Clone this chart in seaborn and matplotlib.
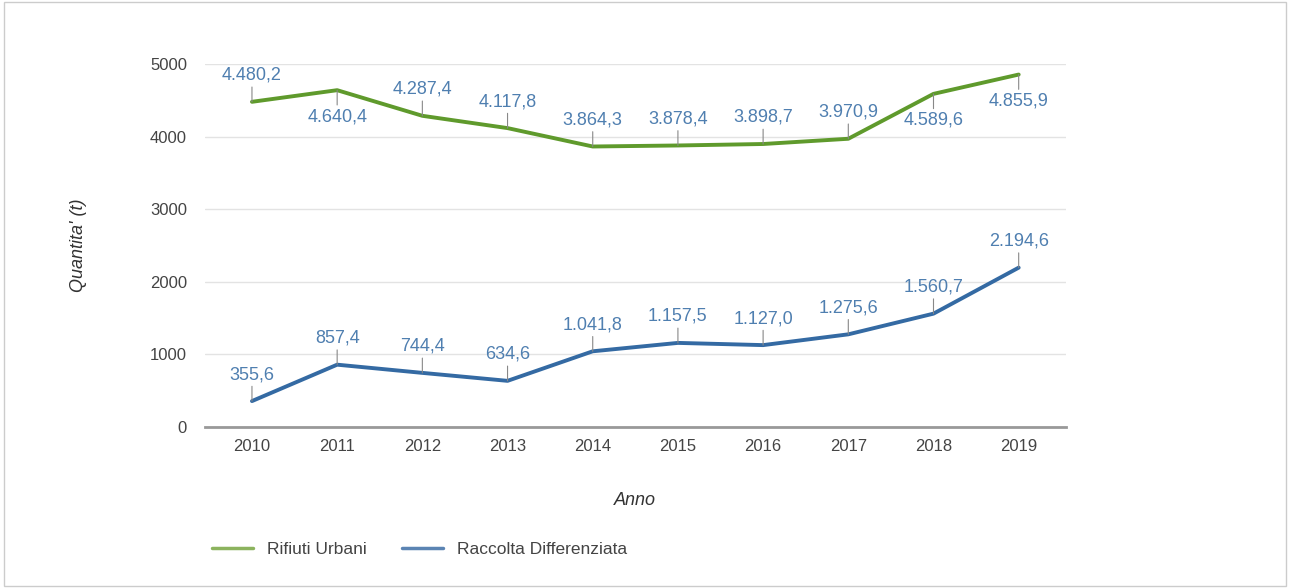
import pandas as pd
import numpy as np
import matplotlib
matplotlib.use("Agg")
import matplotlib.pyplot as plt
import seaborn as sns
from matplotlib.lines import Line2D

# data
anni = [2010, 2011, 2012, 2013, 2014, 2015, 2016, 2017, 2018, 2019]
rifiuti_urbani = [4480.2, 4640.4, 4287.4, 4117.8, 3864.3, 3878.4, 3898.7, 3970.9, 4589.6, 4855.9]
raccolta_diff = [355.6, 857.4, 744.4, 634.6, 1041.8, 1157.5, 1127.0, 1275.6, 1560.7, 2194.6]
# label above (1) or below (-1) the point
pos_urbani = [1, -1, 1, 1, 1, 1, 1, 1, -1, -1]
pos_diff = [1, 1, 1, 1, 1, 1, 1, 1, 1, 1]

sns.set_style("white")
plt.rcParams['font.family'] = ['Liberation Sans', 'DejaVu Sans']

green = "#5f9a2c"
blue = "#346aa3"
label_col = "#4f7fb0"

df = pd.DataFrame({
    "Anno": anni * 2,
    "valore": rifiuti_urbani + raccolta_diff,
    "serie": ["Rifiuti Urbani"] * len(anni) + ["Raccolta Differenziata"] * len(anni),
})
df["x"] = df.groupby("serie").cumcount()

fig = plt.figure(figsize=(12.9, 5.88), dpi=100)
ax = fig.add_axes([0.159, 0.274, 0.667, 0.617])

sns.lineplot(data=df, x="x", y="valore", hue="serie",
             palette={"Rifiuti Urbani": green, "Raccolta Differenziata": blue},
             linewidth=2.8, ax=ax, legend=False)

def fmt(v):
    return f"{v:,.1f}".replace(",", "X").replace(".", ",").replace("X", ".")

def annotate(vals, pos):
    for i, (v, p) in enumerate(zip(vals, pos)):
        off = 13 if p > 0 else -13
        ax.annotate(fmt(v), xy=(i, v), xytext=(0, off), textcoords="offset points",
                    ha="center", va="bottom" if p > 0 else "top",
                    fontsize=13, color=label_col,
                    arrowprops=dict(arrowstyle="-", color="#888888", lw=0.8,
                                    shrinkA=0, shrinkB=0))

annotate(rifiuti_urbani, pos_urbani)
annotate(raccolta_diff, pos_diff)

ax.set_xlim(-0.55, len(anni) - 0.45)
ax.set_ylim(0, 5000)
ax.set_yticks(range(0, 5001, 1000))
ax.set_xticks(range(len(anni)))
ax.set_xticklabels([str(a) for a in anni])
ax.grid(axis="y", color="#e3e3e3", linewidth=1)
for s in ["top", "right", "left"]:
    ax.spines[s].set_visible(False)
ax.spines["bottom"].set_color("#999999")
ax.spines["bottom"].set_linewidth(2)
ax.tick_params(axis="both", length=0, labelsize=12, colors="#444444", pad=13)
ax.tick_params(axis="x", pad=9)
ax.set_xlabel("Anno", fontsize=13, style="italic", color="#333333", labelpad=27)
ax.set_ylabel("Quantita' (t)", fontsize=13, style="italic", color="#333333", labelpad=45)

# legend
handles = [Line2D([], [], color="#8cb35e", lw=2.5), Line2D([], [], color="#5b84b3", lw=2.5)]
fig.legend(handles, ["Rifiuti Urbani", "Raccolta Differenziata"], loc="center left",
           bbox_to_anchor=(0.152, 0.066), ncol=2, frameon=False, fontsize=12.5,
           handlelength=2.4, columnspacing=2.0, labelcolor="#444444")

# outer border
fig.patches.append(plt.Rectangle((0.003, 0.003), 0.994, 0.994, transform=fig.transFigure,
                                 fill=False, edgecolor="#cccccc", lw=1))

fig.savefig("out.png", dpi=100)
